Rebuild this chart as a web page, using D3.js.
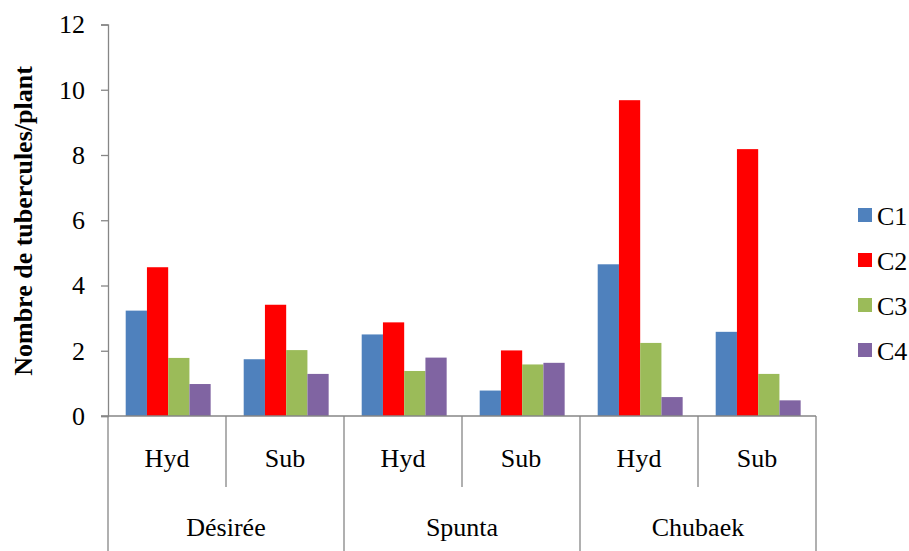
<!DOCTYPE html>
<html>
<head>
<meta charset="utf-8">
<script src="https://cdn.jsdelivr.net/npm/d3@7"></script>
<style>
  body { margin: 0; background: #fff; }
</style>
</head>
<body>
<svg id="chart" width="909" height="551"></svg>
<script>
"use strict";

var varieties = ["Désirée", "Spunta", "Chubaek"];
var methods = ["Hyd", "Sub"];
var series = ["C1", "C2", "C3", "C4"];
var colors = ["#4F81BD", "#FF0000", "#9BBB59", "#8064A2"];
var y_ticks = [0, 2, 4, 6, 8, 10, 12];

// one entry per variety/method, in order
var c1 = [3.23, 1.74, 2.5, 0.78, 4.65, 2.58];
var c2 = [4.56, 3.41, 2.87, 2.01, 9.68, 8.18];
var c3 = [1.78, 2.02, 1.38, 1.58, 2.24, 1.29];
var c4 = [0.98, 1.29, 1.79, 1.63, 0.58, 0.48];

var plot_left = 108, plot_right = 816, plot_top = 24.5, plot_bottom = 416;
var axis_color = "#868686";
var serif = "Liberation Serif, Times New Roman, serif";
var fsize = 26;

var svg = d3.select("#chart")
	.attr("font-family", serif);

var cats = [];
varieties.forEach(function(v) {
	methods.forEach(function(m) { cats.push(v + "|" + m); });
});

var rows = cats.map(function(c, i) {
	return { key: c, values: [c1[i], c2[i], c3[i], c4[i]] };
});

var x0 = d3.scaleBand().domain(cats).range([plot_left, plot_right]).padding(0);
var bw = x0.bandwidth();
var x1 = d3.scaleBand().domain(series).range([bw * 0.15, bw * 0.87]).padding(0);
var y = d3.scaleLinear().domain([0, 12]).range([plot_bottom, plot_top]);

//bars
var groups = svg.selectAll(".cat")
	.data(rows)
	.enter().append("g")
		.attr("class", "cat")
		.attr("transform", function(d) { return "translate(" + x0(d.key) + ",0)"; });

groups.selectAll("rect")
	.data(function(d) { return d.values.map(function(v, i) { return { s: series[i], v: v, i: i }; }); })
	.enter().append("rect")
		.attr("x", function(d) { return x1(d.s); })
		.attr("width", x1.bandwidth())
		.attr("y", function(d) { return y(d.v); })
		.attr("height", function(d) { return y(0) - y(d.v); })
		.attr("fill", function(d) { return colors[d.i]; });

//y axis
var yAxis = d3.axisLeft(y).tickValues(y_ticks).tickSize(7).tickPadding(16);
var ya = svg.append("g")
	.attr("transform", "translate(" + plot_left + ",0)")
	.call(yAxis)
	.attr("font-family", serif)
	.attr("font-size", fsize);
ya.select(".domain").attr("stroke", axis_color).attr("stroke-width", 1.3);
ya.selectAll(".tick line").attr("stroke", axis_color).attr("stroke-width", 1.3);
ya.selectAll(".tick text").attr("fill", "#000");
// axis line runs on down through the category labels
svg.append("line")
	.attr("x1", plot_left).attr("x2", plot_left)
	.attr("y1", plot_bottom).attr("y2", 551)
	.attr("stroke", axis_color).attr("stroke-width", 1.3);

//x axis baseline
svg.append("line")
	.attr("x1", plot_left - 7).attr("x2", plot_right)
	.attr("y1", plot_bottom).attr("y2", plot_bottom)
	.attr("stroke", axis_color).attr("stroke-width", 1.3);

//category separators (inner and outer level)
cats.forEach(function(c, i) {
	var xx = x0(c) + bw;
	var groupEnd = (i % methods.length) == methods.length - 1;
	svg.append("line")
		.attr("x1", xx).attr("x2", xx)
		.attr("y1", plot_bottom).attr("y2", groupEnd ? 551 : 487)
		.attr("stroke", axis_color).attr("stroke-width", 1.3);
});

//method labels
svg.selectAll(".mlabel")
	.data(cats)
	.enter().append("text")
		.attr("class", "mlabel")
		.attr("x", function(d) { return x0(d) + bw / 2; })
		.attr("y", 467)
		.attr("text-anchor", "middle")
		.attr("font-size", fsize)
		.text(function(d) { return d.split("|")[1]; });

//variety labels
svg.selectAll(".vlabel")
	.data(varieties)
	.enter().append("text")
		.attr("class", "vlabel")
		.attr("x", function(d, i) { return plot_left + bw * methods.length * (i + 0.5); })
		.attr("y", 536)
		.attr("text-anchor", "middle")
		.attr("font-size", fsize)
		.text(function(d) { return d; });

//y title
svg.append("text")
	.attr("transform", "translate(32,221) rotate(-90)")
	.attr("text-anchor", "middle")
	.attr("font-size", fsize)
	.attr("font-weight", "bold")
	.text("Nombre de tubercules/plant");

//legend
var legend = svg.selectAll(".legend")
	.data(series)
	.enter().append("g")
		.attr("class", "legend")
		.attr("transform", function(d, i) { return "translate(858," + (208 + i * 45) + ")"; });

legend.append("rect")
	.attr("width", 14).attr("height", 14)
	.attr("fill", function(d, i) { return colors[i]; });

legend.append("text")
	.attr("x", 19)
	.attr("y", 17)
	.attr("font-size", fsize)
	.text(function(d) { return d; });
</script>
</body>
</html>
